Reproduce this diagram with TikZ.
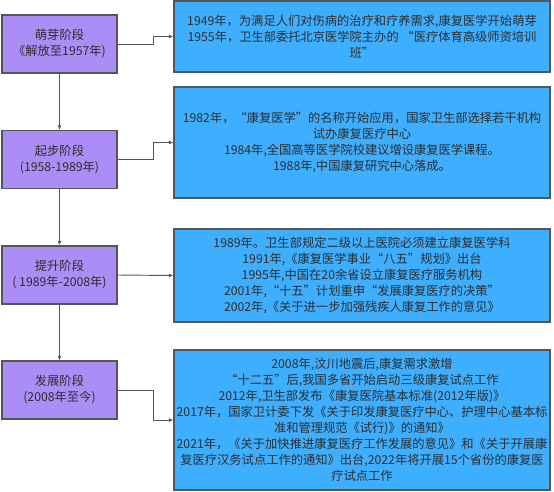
\documentclass[tikz,border=0pt]{standalone}
\usepackage{fontspec}
\setmainfont{Noto Sans CJK SC}
\usetikzlibrary{arrows.meta}
\definecolor{stagepurple}{RGB}{170,142,245}
\definecolor{eventblue}{RGB}{62,175,255}
\definecolor{edgegray}{RGB}{85,85,85}
\definecolor{textgray}{RGB}{45,45,45}

\begin{document}
\begin{tikzpicture}[x=0.75pt,y=-0.75pt,>={Latex[length=3.5pt,width=3pt]},
  stagebox/.style={draw=edgegray,fill=stagepurple,line width=0.8pt,
    minimum width=86.25pt,minimum height=43.5pt,inner sep=0pt,
    align=center,text=textgray,font=\fontsize{9.2pt}{12pt}\selectfont},
  eventbox/.style={draw=edgegray,fill=eventblue,line width=0.8pt,
    minimum width=282pt,inner sep=0pt,
    align=center,text=textgray,font=\fontsize{9.2pt}{12pt}\selectfont},
  link/.style={draw=edgegray,line width=0.7pt,->}]
  \useasboundingbox (0,0) rectangle (554,492);

  % stages
  \node[stagebox] (s1) at (59.5,44) {萌芽阶段\\《解放至1957年)};
  \node[stagebox] (s2) at (59.5,159.5) {起步阶段\\(1958-1989年)};
  \node[stagebox] (s3) at (59.5,275) {提升阶段\\( 1989年-2008年)};
  \node[stagebox] (s4) at (59.5,390) {发展阶段\\(2008年至今)};

  % events
  \node[eventbox,minimum height=53.25pt] (e1) at (362,36.5)
    {1949年，为满足人们对伤病的治疗和疗养需求,康复医学开始萌芽\\
     1955年，卫生部委托北京医学院主办的 “医疗体育高级师资培训\\
     班”};
  \node[eventbox,minimum height=83.25pt] (e2) at (362,142.5)
    {1982年，“康复医学”的名称开始应用，国家卫生部选择若干机构\\
     试办康复医疗中心\\
     1984年,全国高等医学院校建议增设康复医学课程。\\
     1988年,中国康复研究中心落成。};
  \node[eventbox,minimum height=69.75pt] (e3) at (362,275.5)
    {1989年。卫生部规定二级以上医院必须建立康复医学科\\
     1991年,《康复医学事业“八五”规划》出台\\
     1995年,中国在20余省设立康复医疗服务机构\\
     2001年,“十五”计划重申“发展康复医疗的决策”\\
     2002年,《关于进一步加强残疾人康复工作的意见》};
  \node[eventbox,minimum height=105pt] (e4) at (362,420)
    {2008年,汶川地震后,康复需求激增\\
     “十二五”后,我国多省开始启动三级康复试点工作\\
     2012年,卫生部发布《康复医院基本标准(2012年版)》\\
     2017年，国家卫计委下发《关于印发康复医疗中心、护理中心基本标\\
     准和管理规范《试行)》的通知》\\
     2021年，《关于加快推进康复医疗工作发展的意见》和《关于开展康\\
     复医疗汉务试点工作的通知》出台,2022年将开展15个省份的康复医\\
     疗试点工作};

  \draw[link] (s1) -- (s2);
  \draw[link] (s2) -- (s3);
  \draw[link] (s3) -- (s4);

  \draw[link] (s1.east) -- ++(36,0) |- (e1.west);
  \draw[link] (s2.east) -- ++(36,0) |- (e2.west);
  \draw[link] (s3.east) -- (e3.west);
  \draw[link] (s4.east) -- ++(36,0) |- (e4.west);
\end{tikzpicture}
\end{document}
